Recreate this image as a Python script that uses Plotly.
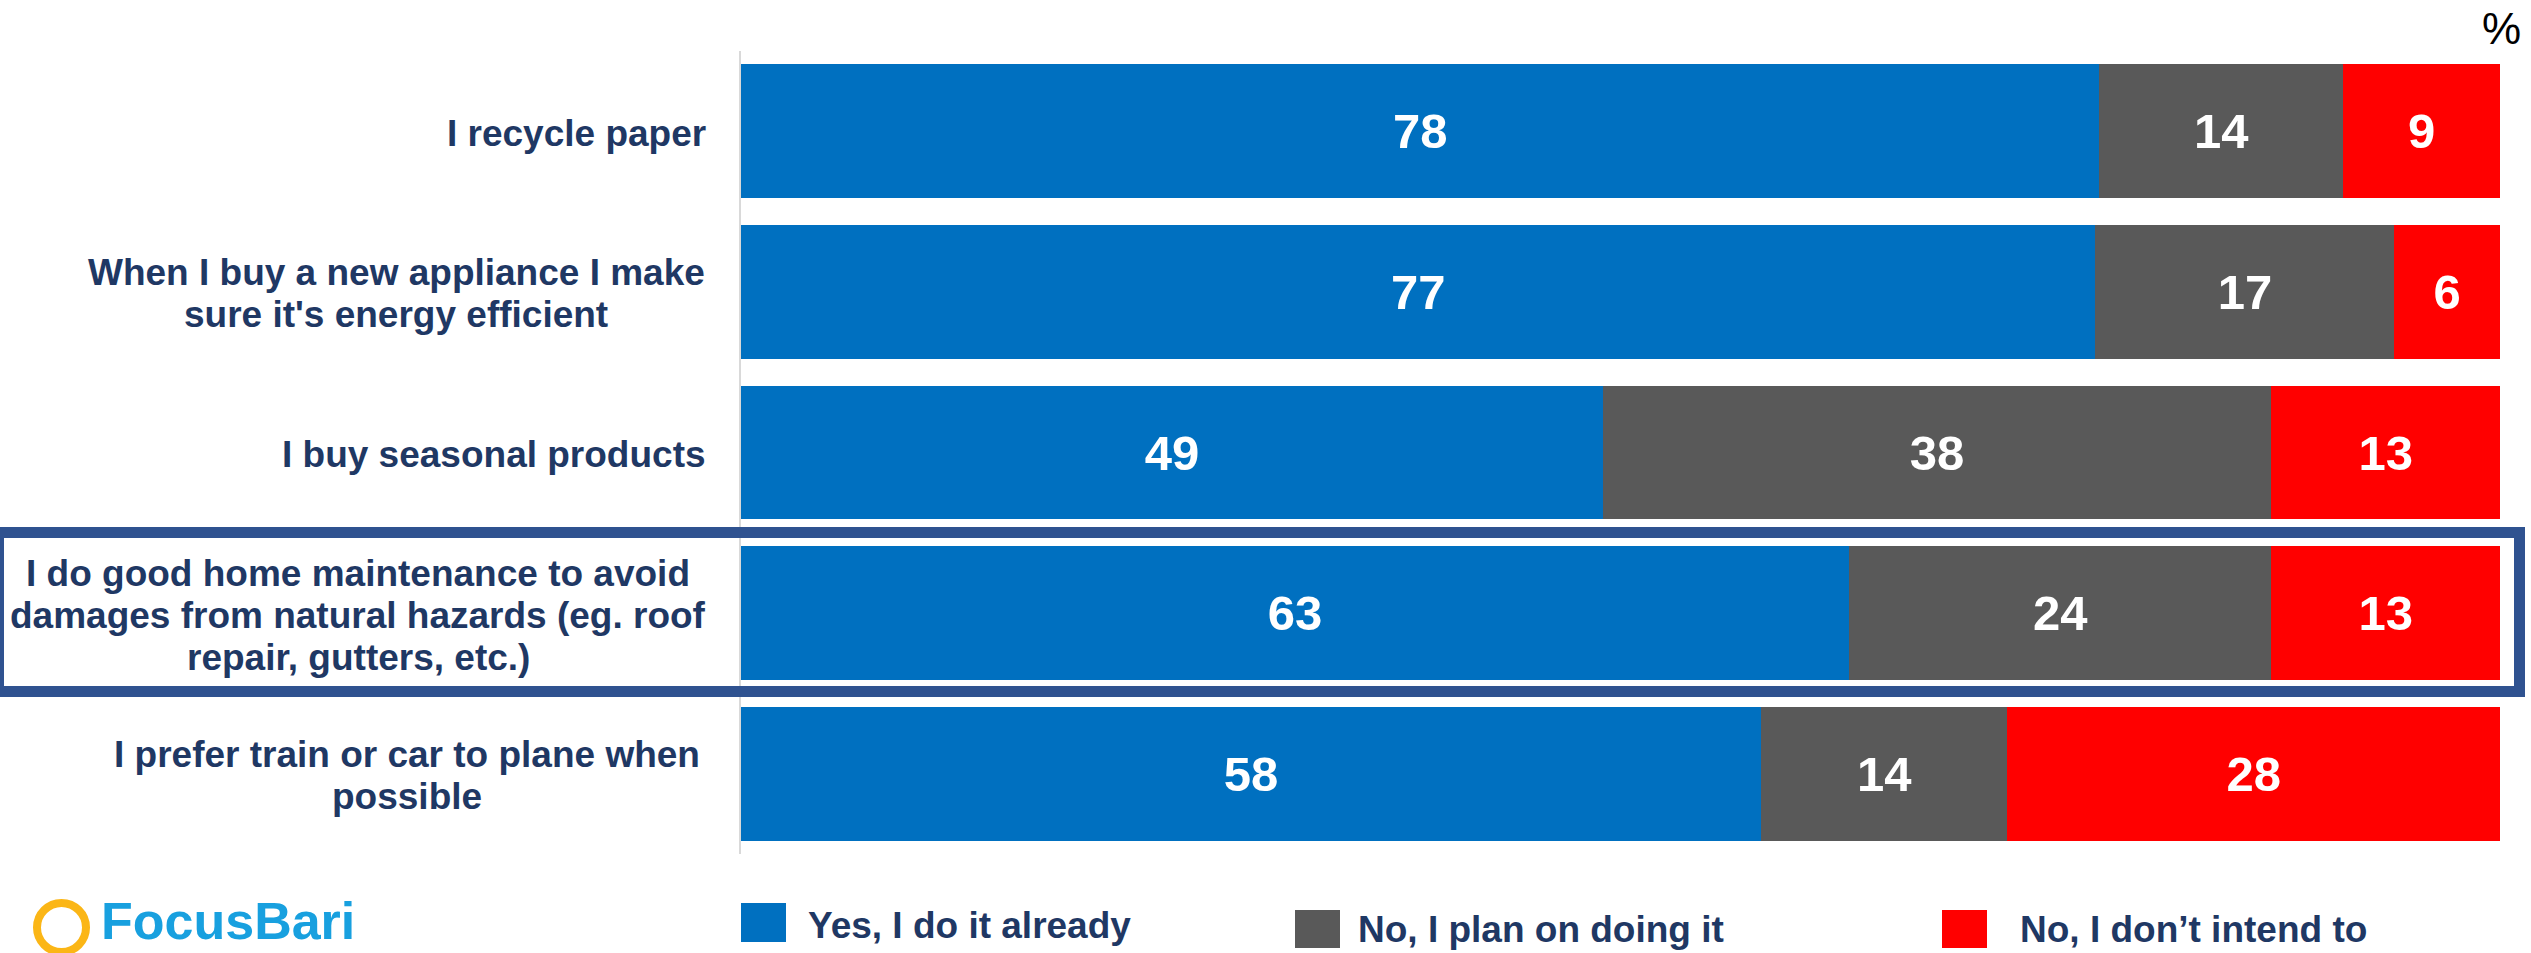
import plotly.graph_objects as go

# ---- data ----
statements = [
    ["I recycle paper"],
    ["When I buy a new appliance I make", "sure it's energy efficient"],
    ["I buy seasonal products"],
    ["I do good home maintenance to avoid", "damages from natural hazards (eg. roof", "repair, gutters, etc.)"],
    ["I prefer train or car to plane when", "possible"],
]
series_names = ["Yes, I do it already", "No, I plan on doing it", "No, I don\u2019t intend to"]
yes_already = [78, 77, 49, 63, 58]
plan_to = [14, 17, 38, 24, 14]
dont_intend = [9, 6, 13, 13, 28]
series_values = [yes_already, plan_to, dont_intend]
series_colors = ["#0070C0", "#595959", "#FF0000"]
highlighted = 3
unit_label = "%"
brand = "FocusBari"

categories = [" ".join(lines) for lines in statements]

# ---- geometry (pixels) ----
W, H = 2531, 953
L, R, T, B = 741, 2500, 51, 854


def px_x(px):
    return (px - L) / (R - L)


def px_y(py):
    return (B - py) / (B - T)


NAVY = "#1F3864"
FONT = "Arial, 'Liberation Sans', sans-serif"

fig = go.Figure()
for name, vals, color in zip(series_names, series_values, series_colors):
    fig.add_trace(go.Bar(
        y=categories,
        x=vals,
        name=name,
        orientation="h",
        marker=dict(color=color, line=dict(width=0)),
        text=[str(v) for v in vals],
        textposition="inside",
        insidetextanchor="middle",
        textangle=0,
        textfont=dict(family=FONT, size=49, color="white", weight="bold"),
        hoverinfo="skip",
        showlegend=False,
    ))

annotations = []
shapes = []

# category labels, one annotation per line so the line spacing stays tight
label_centers = [576, 396, 494, 358, 407]
line_gap = 42
for cat, lines, cx in zip(categories, statements, label_centers):
    n = len(lines)
    for i, line in enumerate(lines):
        annotations.append(dict(
            xref="paper", yref="y", x=px_x(cx), y=cat,
            xanchor="center", yanchor="middle",
            yshift=((n - 1) / 2 - i) * line_gap - 2,
            text=line, showarrow=False,
            font=dict(family=FONT, size=37, color=NAVY, weight="bold"),
        ))

# highlight frame around the selected row
hl_top = {3: 532.5}[highlighted]
shapes.append(dict(
    type="rect", xref="paper", yref="paper",
    x0=px_x(-1.5), x1=px_x(2519.5), y0=px_y(hl_top + 159), y1=px_y(hl_top),
    line=dict(color="#2F5290", width=11), fillcolor="rgba(0,0,0,0)", layer="above",
))

# unit marker
annotations.append(dict(
    xref="paper", yref="paper", x=px_x(2501), y=px_y(29),
    xanchor="center", yanchor="middle", text=unit_label, showarrow=False,
    font=dict(family=FONT, size=44, color="black"),
))

# legend drawn as swatches + text
legend_items = [
    (741, 903, 942, 806, 926),
    (1295, 910, 948, 1356, 929),
    (1942, 910, 948, 2018, 929),
]
for (sx, sy0, sy1, tx, ty), name, color in zip(legend_items, series_names, series_colors):
    shapes.append(dict(
        type="rect", xref="paper", yref="paper",
        x0=px_x(sx), x1=px_x(sx + 45), y0=px_y(sy1), y1=px_y(sy0),
        line=dict(width=0), fillcolor=color,
    ))
    annotations.append(dict(
        xref="paper", yref="paper", x=px_x(tx), y=px_y(ty),
        xanchor="left", yanchor="middle", text=name, showarrow=False,
        font=dict(family=FONT, size=37, color=NAVY, weight="bold"),
    ))

# brand mark: magnifier ring + word
shapes.append(dict(
    type="circle", xref="paper", yref="paper",
    x0=px_x(37), x1=px_x(86), y0=px_y(952), y1=px_y(903),
    line=dict(color="#FBB616", width=8), fillcolor="rgba(0,0,0,0)",
))
annotations.append(dict(
    xref="paper", yref="paper", x=px_x(99), y=px_y(952),
    xanchor="left", yanchor="bottom", text=brand, showarrow=False,
    font=dict(family=FONT, size=52, color="#18A0DF", weight="bold"),
))

fig.update_layout(
    width=W, height=H,
    margin=dict(l=L, r=W - R, t=T, b=H - B, pad=0),
    barmode="stack",
    barnorm="percent",
    bargap=0.166,
    plot_bgcolor="white",
    paper_bgcolor="white",
    xaxis=dict(range=[0, 100], visible=False, fixedrange=True),
    yaxis=dict(
        type="category", categoryorder="array", categoryarray=categories,
        range=[len(categories) - 0.5, -0.5],
        showline=True, linecolor="#D9D9D9", linewidth=2,
        showticklabels=False, ticks="", showgrid=False, zeroline=False,
        fixedrange=True,
    ),
    annotations=annotations,
    shapes=shapes,
    showlegend=False,
)

fig.write_html("out.html", config={"displayModeBar": False})
